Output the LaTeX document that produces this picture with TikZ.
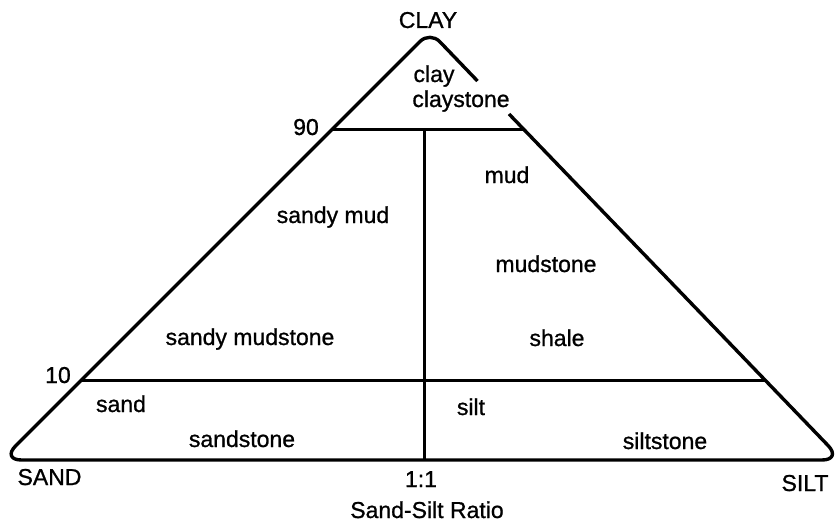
\documentclass[tikz,border=0pt]{standalone}
\usepackage{fontspec}
\setmainfont{Liberation Sans}
\newfontfamily\labfont[FakeBold=0.9]{Liberation Sans}
\begin{document}
\begin{tikzpicture}[x=1pt,y=-1pt,
  edge/.style={line width=3.4pt,line join=round},
  div/.style={line width=3pt},
  lab/.style={anchor=base,inner sep=0pt,font=\labfont\fontsize{23}{27}\selectfont}]
\useasboundingbox (0,0) rectangle (838,527);
% corners and dividing points
\coordinate (A) at (430,31.5);
\coordinate (BL) at (1.5,460);
\coordinate (BR) at (842,460);
\coordinate (g1) at (477.5,81);
\coordinate (g2) at (509,114);
\coordinate (n90L) at (332.5,129);
\coordinate (n90R) at (522.7,129);
\coordinate (n10L) at (81.5,380);
\coordinate (n10R) at (765,380);
\coordinate (vT) at (424,129);
\coordinate (vB) at (424,460);
% outline
\draw[edge,rounded corners=20pt] (g2) -- (BR) -- (BL) [rounded corners=14pt] -- (A) -- (g1);
% dividers
\draw[div] (n90L) -- (n90R);
\draw[div] (n10L) -- (n10R);
\draw[div] (vT) -- (vB);
% labels
\node[lab] (clayC) at (428,28) {CLAY};
\node[lab] (clay) at (434,82) {clay};
\node[lab] (claystone) at (461,107) {claystone};
\node[lab] (l90) at (306,135) {90};
\node[lab] (mud) at (507,183) {mud};
\node[lab] (sandymud) at (333,223) {sandy mud};
\node[lab] (mudstone) at (546,272) {mudstone};
\node[lab] (sandymudstone) at (250,345) {sandy mudstone};
\node[lab] (shale) at (557,346) {shale};
\node[lab] (l10) at (58,383) {10};
\node[lab] (sand) at (121,412) {sand};
\node[lab] (silt) at (471,415) {silt};
\node[lab] (sandstone) at (242,447) {sandstone};
\node[lab] (siltstone) at (665,449) {siltstone};
\node[lab] (SAND) at (49.5,485) {SAND};
\node[lab] (ratio11) at (421,487) {1:1};
\node[lab] (SILT) at (805,491) {SILT};
\node[lab] (ssr) at (427,518) {Sand-Silt Ratio};
\end{tikzpicture}
\end{document}
